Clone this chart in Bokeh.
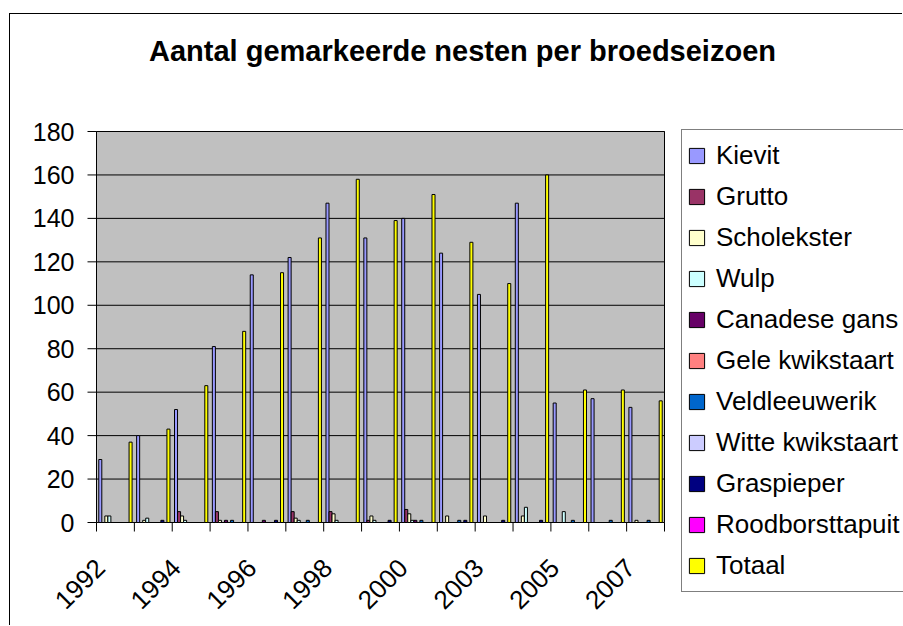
import math
from bokeh.plotting import figure
from bokeh.models import Range1d, Legend, LegendItem, ColumnDataSource, Label
from bokeh.core.properties import value
from bokeh.transform import dodge
from bokeh.embed import file_html
from bokeh.resources import INLINE

# ---- data -------------------------------------------------------------
years = ["1992", "1993", "1994", "1995", "1996", "1997", "1998", "1999",
         "2000", "2001", "2003", "2004", "2005", "2006", "2007"]

series_names = ["Kievit", "Grutto", "Scholekster", "Wulp", "Canadese gans",
                "Gele kwikstaart", "Veldleeuwerik", "Witte kwikstaart",
                "Graspieper", "Roodborsttapuit", "Totaal"]

kievit          = [29, 40, 52, 81, 114, 122, 147, 131, 140, 124, 105, 147, 55, 57, 53]
grutto          = [0, 0, 5, 5, 0, 5, 5, 1, 6, 0, 0, 0, 0, 0, 0]
scholekster     = [3, 1, 3, 1, 0, 2, 4, 3, 4, 3, 3, 3, 0, 0, 1]
wulp            = [3, 2, 1, 0, 0, 1, 1, 1, 1, 0, 0, 7, 5, 0, 0]
canadese_gans   = [0, 0, 0, 1, 1, 0, 0, 0, 1, 0, 0, 0, 0, 0, 0]
gele_kwikstaart = [0, 0, 0, 0, 0, 0, 0, 0, 0, 0, 0, 0, 0, 0, 0]
veldleeuwerik   = [0, 0, 0, 1, 0, 1, 0, 0, 1, 1, 0, 0, 1, 1, 1]
witte_kwikstaart = [0, 0, 0, 0, 0, 0, 0, 0, 0, 0, 0, 0, 0, 0, 0]
graspieper      = [0, 1, 0, 0, 1, 0, 0, 1, 0, 1, 1, 1, 0, 0, 0]
roodborsttapuit = [0, 0, 0, 0, 0, 0, 0, 0, 0, 0, 0, 0, 0, 0, 0]
totaal          = [37, 43, 63, 88, 115, 131, 158, 139, 151, 129, 110, 160, 61, 61, 56]

series_values = [kievit, grutto, scholekster, wulp, canadese_gans,
                 gele_kwikstaart, veldleeuwerik, witte_kwikstaart,
                 graspieper, roodborsttapuit, totaal]

colors = ["#9999FF", "#993366", "#FFFFCC", "#CCFFFF", "#660066", "#FF8080",
          "#0066CC", "#CCCCFF", "#000080", "#FF00FF", "#FFFF00"]

y_ticks = [0, 20, 40, 60, 80, 100, 120, 140, 160, 180]
y_tick_labels = ["0", "20", "40", "60", "80", "100", "120", "140", "160", "180"]

title_text = "Aantal gemarkeerde nesten per broedseizoen"

# ---- geometry (pixels) ------------------------------------------------
FONT = "Liberation Sans"
n = len(years)
Y_MAX = 180

W, H = 893, 612            # canvas (placed at page x=10, y=14 by the CSS below)
AREA_L, AREA_T = 86, 117   # grey plot area top-left corner, canvas px
AREA_W, AREA_H = 568, 391  # grey plot area size in px
px_cat = AREA_W / n
px_unit = AREA_H / Y_MAX
x_lo = -0.5 - AREA_L / px_cat
x_hi = -0.5 + (W - AREA_L) / px_cat
y_hi = Y_MAX + AREA_T / px_unit
y_lo = -(H - AREA_T - AREA_H) / px_unit

p = figure(width=W, height=H, output_backend="svg", toolbar_location=None,
           x_range=Range1d(x_lo, x_hi), y_range=Range1d(y_lo, y_hi),
           x_axis_type=None, y_axis_type=None,
           min_border_left=0, min_border_right=0,
           min_border_top=0, min_border_bottom=0)
p.styles = {"margin-left": "9px", "margin-top": "13px",
            "border-left": "1px solid black", "border-top": "1px solid black"}
p.background_fill_color = "white"
p.border_fill_color = "white"
p.outline_line_color = None

# grey plot area with black border
p.quad(left=-0.5, right=n - 0.5, bottom=0, top=Y_MAX,
       fill_color="#C0C0C0", line_color="black", line_width=1)

# horizontal grid lines
p.segment(x0=-0.5, x1=n - 0.5, y0=y_ticks, y1=y_ticks,
          line_color="black", line_width=1)

# y axis: tick marks and labels
p.segment(x0=-0.5 - 9 / px_cat, x1=-0.5, y0=y_ticks, y1=y_ticks,
          line_color="black", line_width=1)
p.text(x=-0.5 - 22 / px_cat, y=y_ticks, text=y_tick_labels,
       text_align="right", text_baseline="middle",
       text_font=value(FONT), text_font_size=value("25px"), text_color="black")

# bars
data = {"idx": list(range(n))}
for k, vals in enumerate(series_values):
    data[f"s{k}"] = vals
src = ColumnDataSource(data)

bar_w = 1 / 12.5
items = []
for k, (name, col) in enumerate(zip(series_names, colors)):
    off = -0.4 + k * bar_w
    r = p.vbar(x=dodge("idx", off, range=p.x_range), top=f"s{k}", bottom=0,
               width=bar_w, source=src, fill_color=col,
               line_color="black", line_width=1)
    items.append(LegendItem(label=name, renderers=[r]))

# x axis: tick marks at category boundaries
bounds = [i - 0.5 for i in range(n + 1)]
p.segment(x0=bounds, x1=bounds, y0=0, y1=-9 / px_unit,
          line_color="black", line_width=1)

# x axis labels (every other year), rotated 45 degrees
lab_src = ColumnDataSource(dict(idx=list(range(0, n, 2)), text=years[::2]))
p.text(x=dodge("idx", -0.4, range=p.x_range), y=-41 / px_unit, text="text",
       source=lab_src, angle=math.pi / 4,
       text_align="right", text_baseline="middle",
       text_font=value(FONT), text_font_size=value("26px"), text_color="black")

# legend
legend = Legend(items=items, location=(AREA_L + 585, 34), orientation="vertical",
                label_text_font=FONT, label_text_font_size="26px",
                label_text_color="black",
                glyph_width=19, glyph_height=19, label_height=41,
                spacing=0, padding=5, label_standoff=10, margin=0,
                border_line_color="black", border_line_width=1,
                background_fill_color="white", background_fill_alpha=1)
p.add_layout(legend)

# title
p.add_layout(Label(x=-0.5 + (462 - 96) / px_cat, y=Y_MAX + (131 - 50) / px_unit,
                   text=title_text, text_align="center", text_baseline="middle",
                   text_font=FONT, text_font_size="29px",
                   text_font_style="bold", text_color="black"))

open("out.html", "w").write(file_html(p, INLINE))
